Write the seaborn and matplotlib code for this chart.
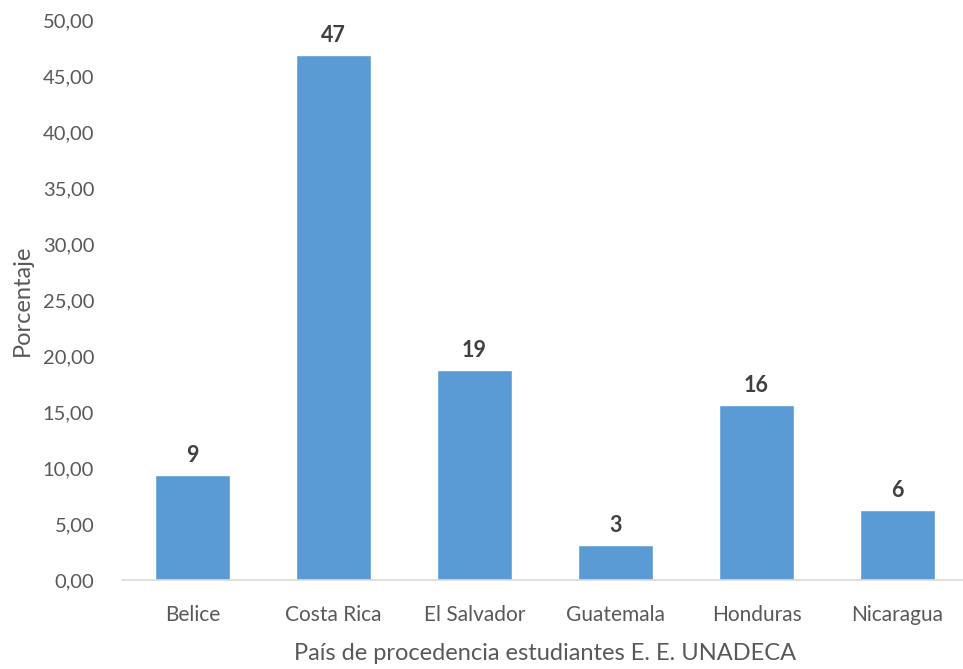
import matplotlib
matplotlib.use("Agg")
import matplotlib.pyplot as plt
import seaborn as sns
import pandas as pd
from matplotlib.ticker import FuncFormatter

paises = ["Belice", "Costa Rica", "El Salvador", "Guatemala", "Honduras", "Nicaragua"]
porcentaje = [9.375, 46.875, 18.75, 3.125, 15.625, 6.25]
etiquetas = ["9", "47", "19", "3", "16", "6"]

df = pd.DataFrame({"pais": paises, "porcentaje": porcentaje})

sns.set_style("white")
plt.rcParams["font.family"] = ["Lato", "DejaVu Sans"]

fig = plt.figure(figsize=(9.63, 6.69), dpi=100)
ax = fig.add_axes([122 / 963, 89 / 669, 846 / 963, 560 / 669])
sns.barplot(data=df, x="pais", y="porcentaje", color="#5B9BD5",
            width=0.525, saturation=1, ax=ax)

for i, (v, t) in enumerate(zip(porcentaje, etiquetas)):
  ax.text(i, v + 0.8, t, ha="center", va="bottom", fontsize=15.5,
          fontweight="bold", color="#404040")

ax.set_ylim(0, 50)
ax.set_xlim(-0.5, len(paises) - 0.5)
ax.set_yticks(range(0, 51, 5))
ax.yaxis.set_major_formatter(FuncFormatter(lambda v, p: f"{v:.2f}".replace(".", ",")))
ax.set_xticks([x - 0.5 for x in range(len(paises) + 1)], minor=True)
ax.tick_params(axis="x", which="major", length=0, pad=18, labelsize=15, labelcolor="#595959")
ax.tick_params(axis="x", which="minor", length=8, width=1.2, color="#D9D9D9")
ax.tick_params(axis="y", length=0, pad=20, labelsize=14.5, labelcolor="#595959")

for s in ["top", "right", "left"]:
  ax.spines[s].set_visible(False)
ax.spines["bottom"].set_color("#D9D9D9")
ax.spines["bottom"].set_linewidth(1.2)

ax.set_xlabel("País de procedencia estudiantes E. E. UNADECA", fontsize=17, color="#595959", labelpad=13)
ax.set_ylabel("Porcentaje", fontsize=17, color="#595959", labelpad=7)

plt.savefig("out.png", dpi=100)
